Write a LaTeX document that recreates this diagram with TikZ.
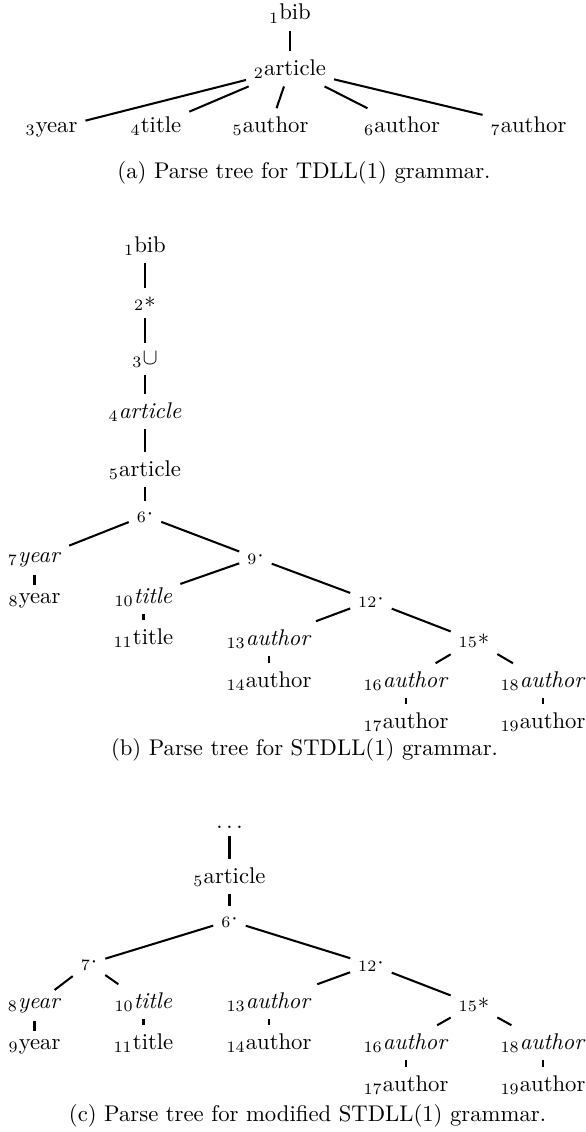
\documentclass[tikz,border=0pt]{standalone}
\begin{document}
\begin{tikzpicture}[x=0.4405pt,y=-0.4405pt,
  tn/.style={anchor=base},
  link/.style={line width=0.9pt},
  captext/.style={anchor=base}]
\useasboundingbox (0,0) rectangle (586,1132);

% ---------- (a) TDLL(1) ----------
\node[tn] (a1) at (290,20)  {$_{1}$bib};
\node[tn] (a2) at (290,75)  {$_{2}$article};
\node[tn] (a3) at (51.5,132) {$_{3}$year};
\node[tn] (a4) at (156,132) {$_{4}$title};
\node[tn] (a5) at (270.5,132) {$_{5}$author};
\node[tn] (a6) at (402,132) {$_{6}$author};
\node[tn] (a7) at (528.5,132) {$_{7}$author};
\draw[link] (a1) -- (a2);
\foreach \c in {a3,a4,a5,a6,a7} \draw[link] (a2) -- (\c);
\node[captext] (capa) at (304,178) {(a) Parse tree for TDLL(1) grammar.};

% ---------- (b) STDLL(1) ----------
\node[tn] (b1)  at (145,252) {$_{1}$bib};
\node[tn] (b2)  at (145,307) {$_{2}*$};
\node[tn] (b3)  at (145,364) {$_{3}\cup$};
\node[tn] (b4)  at (145,418) {$_{4}$\textit{article}};
\node[tn] (b5)  at (145,476) {$_{5}$article};
\node[tn] (b6)  at (145,519) {$_{6}\cdot$};
\node[tn] (b7)  at (34.5,562)  {$_{7}$\textit{year}};
\node[tn] (b8)  at (34.5,603)  {$_{8}$year};
\node[tn] (b9)  at (255.5,561) {$_{9}\cdot$};
\node[tn] (b10) at (143.5,603) {$_{10}$\textit{title}};
\node[tn] (b11) at (143.5,644) {$_{11}$title};
\node[tn] (b12) at (371,604)   {$_{12}\cdot$};
\node[tn] (b13) at (269,645)   {$_{13}$\textit{author}};
\node[tn] (b14) at (269,687)   {$_{14}$author};
\node[tn] (b15) at (474,644)   {$_{15}*$};
\node[tn] (b16) at (406,687)   {$_{16}$\textit{author}};
\node[tn] (b17) at (406,728)   {$_{17}$author};
\node[tn] (b18) at (543,687)   {$_{18}$\textit{author}};
\node[tn] (b19) at (543,728)   {$_{19}$author};
\draw[link] (b1) -- (b2);
\draw[link] (b2) -- (b3);
\draw[link] (b3) -- (b4);
\draw[link] (b4) -- (b5);
\draw[link] (b5) -- (b6);
\draw[link] (b6) -- (b7);
\draw[link] (b7) -- (b8);
\draw[link] (b6) -- (b9);
\draw[link] (b9) -- (b10);
\draw[link] (b10) -- (b11);
\draw[link] (b9) -- (b12);
\draw[link] (b12) -- (b13);
\draw[link] (b13) -- (b14);
\draw[link] (b12) -- (b15);
\draw[link] (b15) -- (b16);
\draw[link] (b16) -- (b17);
\draw[link] (b15) -- (b18);
\draw[link] (b18) -- (b19);
\node[captext] (capb) at (304.5,755) {(b) Parse tree for STDLL(1) grammar.};

% ---------- (c) modified STDLL(1) ----------
\node[tn] (c0)  at (229.5,828)  {$\ldots$};
\node[tn] (c5)  at (229.5,883)  {$_{5}$article};
\node[tn] (c6)  at (229.5,924)  {$_{6}\cdot$};
\node[tn] (c7)  at (89,967)     {$_{7}\cdot$};
\node[tn] (c8)  at (34.5,1008)  {$_{8}$\textit{year}};
\node[tn] (c9)  at (34.5,1049)  {$_{9}$year};
\node[tn] (c10) at (143.5,1008) {$_{10}$\textit{title}};
\node[tn] (c11) at (143.5,1049) {$_{11}$title};
\node[tn] (c12) at (371,968)    {$_{12}\cdot$};
\node[tn] (c13) at (269,1008)   {$_{13}$\textit{author}};
\node[tn] (c14) at (269,1049)   {$_{14}$author};
\node[tn] (c15) at (474,1008)   {$_{15}*$};
\node[tn] (c16) at (406,1049)   {$_{16}$\textit{author}};
\node[tn] (c17) at (406,1091)   {$_{17}$author};
\node[tn] (c18) at (543,1049)   {$_{18}$\textit{author}};
\node[tn] (c19) at (543,1091)   {$_{19}$author};
\draw[link] (c0) -- (c5);
\draw[link] (c5) -- (c6);
\draw[link] (c6) -- (c7);
\draw[link] (c7) -- (c8);
\draw[link] (c8) -- (c9);
\draw[link] (c7) -- (c10);
\draw[link] (c10) -- (c11);
\draw[link] (c6) -- (c12);
\draw[link] (c12) -- (c13);
\draw[link] (c13) -- (c14);
\draw[link] (c12) -- (c15);
\draw[link] (c15) -- (c16);
\draw[link] (c16) -- (c17);
\draw[link] (c15) -- (c18);
\draw[link] (c18) -- (c19);
\node[captext] (capc) at (307.5,1121) {(c) Parse tree for modified STDLL(1) grammar.};
\end{tikzpicture}
\end{document}
